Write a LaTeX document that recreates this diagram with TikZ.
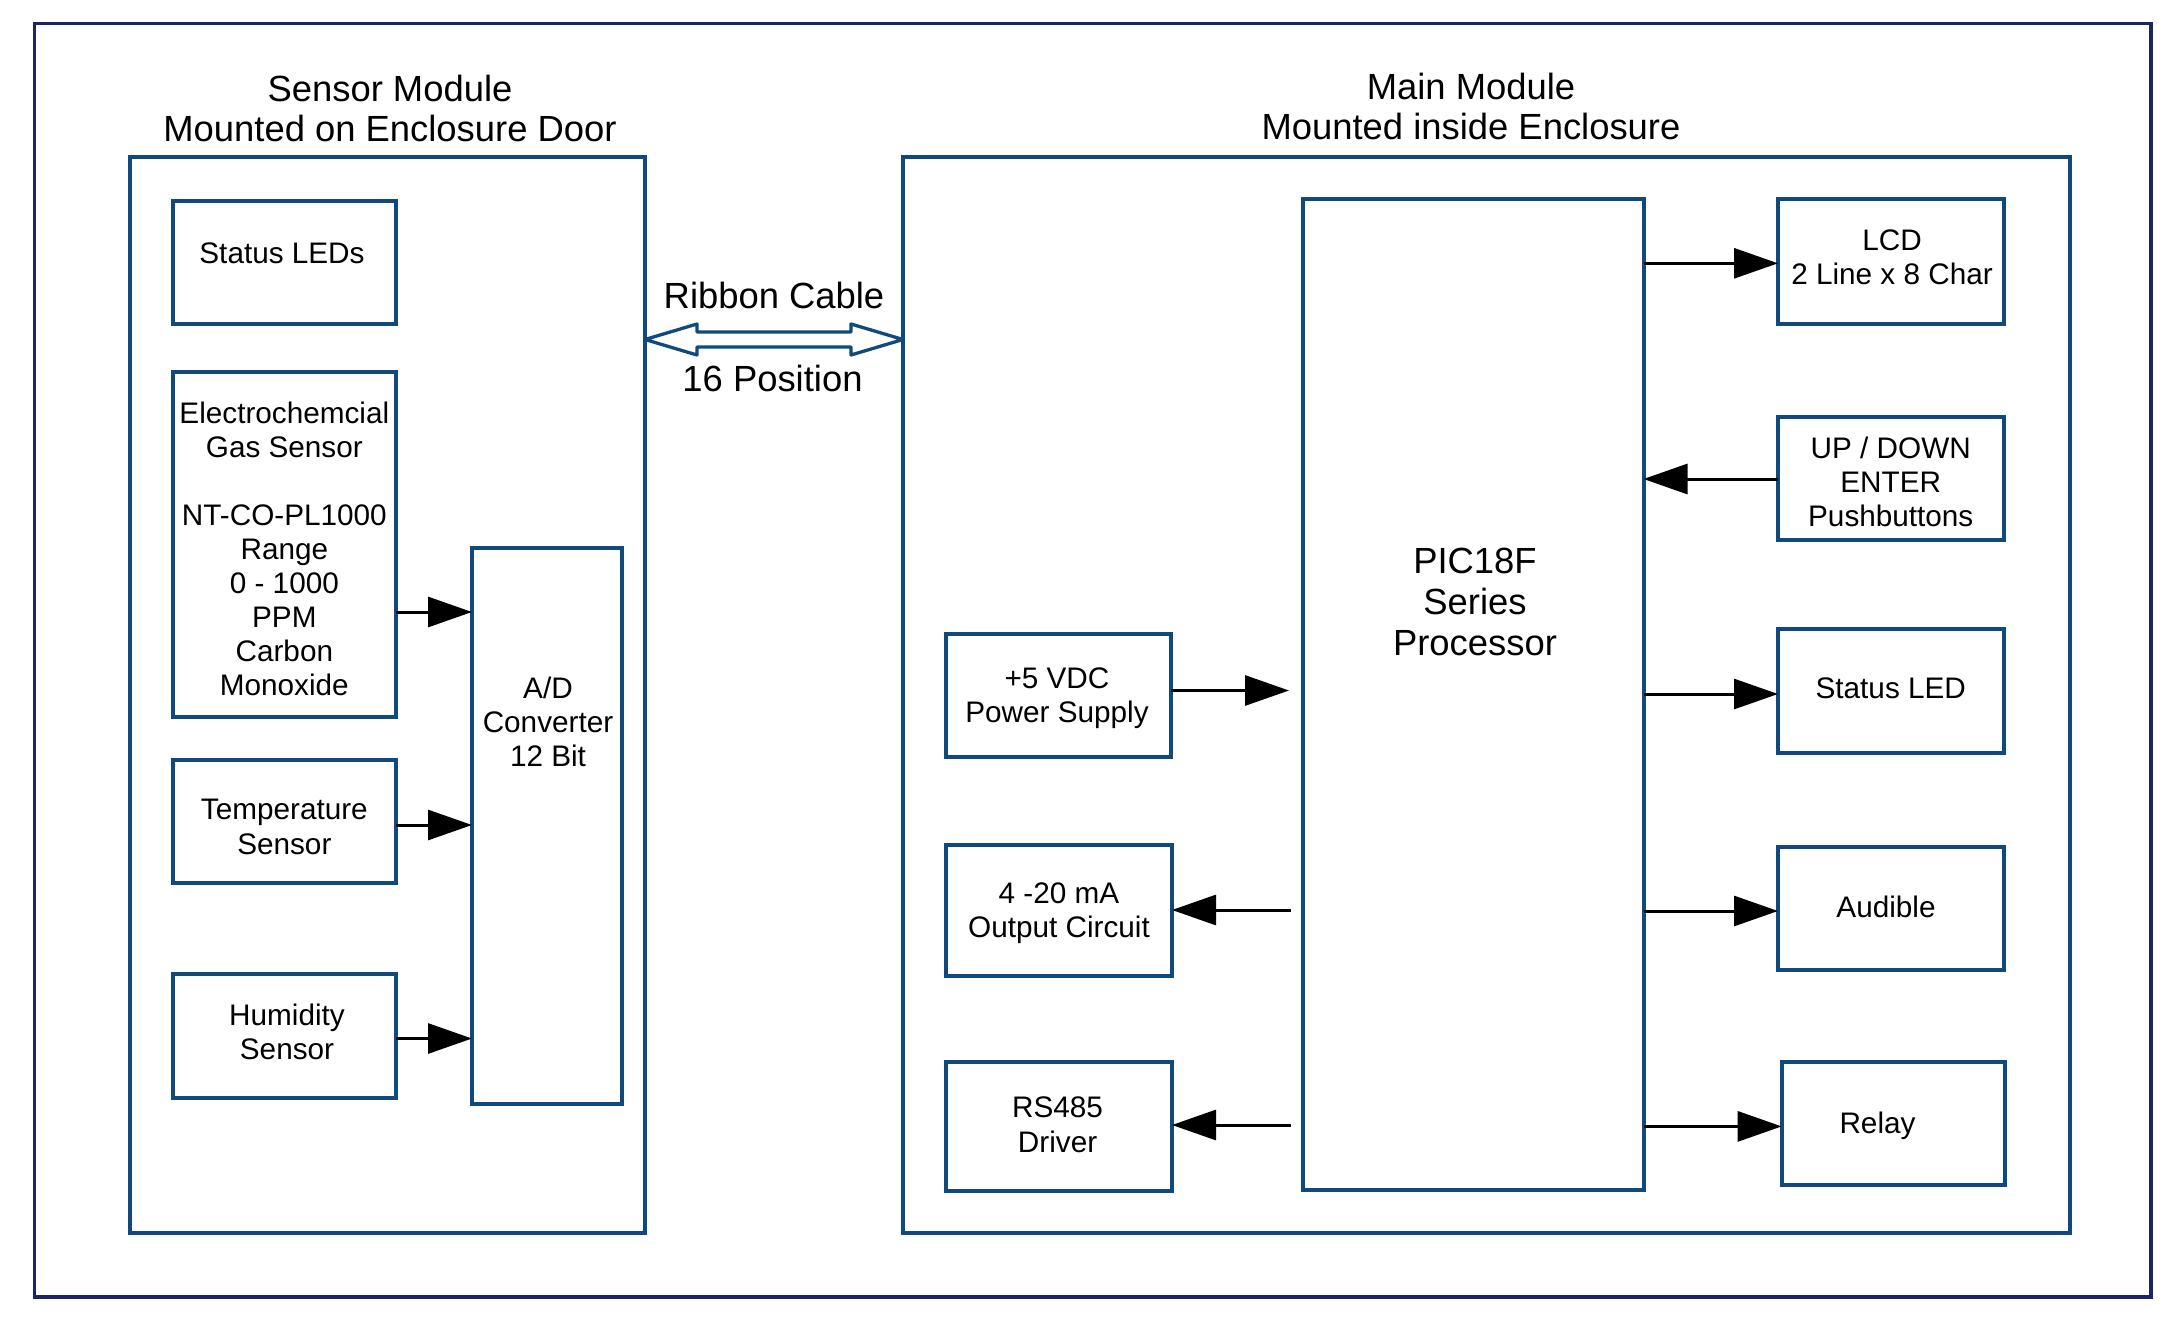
\documentclass[tikz,border=0pt]{standalone}
\usepackage{fontspec}
\setmainfont{Liberation Sans}
\usetikzlibrary{arrows.meta,calc}
\definecolor{boxblue}{RGB}{16,73,125}
\definecolor{framenavy}{RGB}{26,38,104}
\newcommand\myboxfont{\fontsize{10.4}{12}\selectfont}
\newcommand\mytitlefont{\fontsize{12.74}{14}\selectfont}
\begin{document}
\begin{tikzpicture}[x=0.35pt,y=-0.35pt,
  bx/.style n args={2}{draw=boxblue, line width=1.4pt, minimum width=#1*0.35pt,
     minimum height=#2*0.35pt, inner sep=0pt, outer sep=0pt},
  boxtxt/.style={inner sep=0pt, align=center, font=\myboxfont},
  titletxt/.style={inner sep=0pt, align=center, font=\mytitlefont},
  arr/.style={line width=1.05pt, -{Triangle[length=15.4pt,width=10.5pt]}},
  cable/.style={draw=boxblue, line width=1.15pt, line join=round}]
\useasboundingbox (0,0) rectangle (2184,1329);
% outer frame
\node[draw=framenavy, line width=1.2pt, minimum width=2116.5*0.35pt,
      minimum height=1273.5*0.35pt, inner sep=0pt] (frame) at (1092.75,660.25) {};
% modules
\node[bx={515.5}{1075.5}] (sensormod) at (387.25,694.75) {};
\node[bx={1166.5}{1075.5}] (mainmod) at (1486.25,694.75) {};
\node[titletxt] (senstitle) at (390,108) {Sensor Module\\Mounted on Enclosure Door};
\node[titletxt] (maintitle) at (1471,106) {Main Module\\Mounted inside Enclosure};
% sensor module boxes
\node[bx={223.3}{123}] (sleds) at (284.35,262.5) {};
\node[boxtxt] (sledstxt) at (282,253) {Status LEDs};
\node[bx={223.3}{345}] (electro) at (284.35,544.5) {};
\node[boxtxt, font=\fontsize{10.4}{11.9}\selectfont] (electrotxt) at (284.35,549) {Electrochemcial\\Gas Sensor\\\mbox{}\\NT-CO-PL1000\\Range\\0 - 1000\\PPM\\Carbon\\Monoxide};
\node[bx={223.3}{123}] (temp) at (284.35,821.5) {};
\node[boxtxt] (temptxt) at (284.35,827) {Temperature\\Sensor};
\node[bx={223.3}{124}] (hum) at (284.35,1036) {};
\node[boxtxt] (humtxt) at (287,1032) {Humidity\\Sensor};
\node[bx={150}{556}] (ad) at (547,826) {};
\node[boxtxt] (adtxt) at (548,722) {A/D\\Converter\\12 Bit};
% ribbon cable
\coordinate (cl) at (sensormod.east |- 0,339.5);
\draw[cable] (cl) -- ++(52,-15.5) -- ++(0,8) -- ++(154,0) -- ++(0,-8) -- ++(52,15.5)
   -- ++(-52,15.5) -- ++(0,-8) -- ++(-154,0) -- ++(0,8) -- cycle;
\node[titletxt] (ribbon) at (774,295) {Ribbon Cable};
\node[titletxt] (pos16) at (772.5,378) {16 Position};
% main module boxes
\node[bx={340.5}{991}] (pic) at (1473.25,694.5) {};
\node[titletxt, font=\fontsize{12.74}{14.2}\selectfont] (pictxt) at (1475,602) {PIC18F\\Series\\Processor};
\node[bx={225}{123}] (psu) at (1058.5,695.5) {};
\node[boxtxt] (psutxt) at (1057,698.5) {+5 VDC\\Power Supply};
\node[bx={226}{131}] (ma) at (1059,910.5) {};
\node[boxtxt] (matxt) at (1059,913.5) {4 -20 mA\\Output Circuit};
\node[bx={226}{129.5}] (rs) at (1059,1126.25) {};
\node[boxtxt] (rstxt) at (1057.6,1124.75) {RS485\\Driver};
\node[bx={225.5}{125}] (lcd) at (1890.75,261.5) {};
\node[boxtxt] (lcdtxt) at (1892,257.5) {LCD\\2 Line x 8 Char};
\node[bx={225.5}{123.5}] (updown) at (1890.75,478.25) {};
\node[boxtxt] (updowntxt) at (1890.75,482) {UP / DOWN\\ENTER\\Pushbuttons};
\node[bx={225.5}{124}] (sled) at (1890.75,691) {};
\node[boxtxt] (sledtxt) at (1890.75,688) {Status LED};
\node[bx={225.5}{123}] (aud) at (1890.75,908) {};
\node[boxtxt] (audtxt) at (1886,907) {Audible};
\node[bx={223.3}{123.3}] (relay) at (1893.35,1123.35) {};
\node[boxtxt] (relaytxt) at (1877.5,1126) {Relay};
% sensor arrows
\draw[arr] (electro.east |- 0,612) -- (ad.west |- 0,612);
\draw[arr] (temp.east |- 0,825) -- (ad.west |- 0,825);
\draw[arr] (hum.east |- 0,1038.5) -- (ad.west |- 0,1038.5);
% main arrows
\draw[arr, shorten >=4.9pt] (psu.east |- 0,690.5) -- (pic.west |- 0,690.5);
\draw[arr, shorten <=4.2pt] (pic.west |- 0,910) -- (ma.east |- 0,910);
\draw[arr, shorten <=4.2pt] (pic.west |- 0,1125) -- (rs.east |- 0,1125);
\draw[arr] (pic.east |- 0,263.3) -- (lcd.west |- 0,263.3);
\draw[arr] (updown.west |- 0,479) -- (pic.east |- 0,479);
\draw[arr] (pic.east |- 0,694) -- (sled.west |- 0,694);
\draw[arr] (pic.east |- 0,911) -- (aud.west |- 0,911);
\draw[arr] (pic.east |- 0,1126.4) -- (relay.west |- 0,1126.4);
\end{tikzpicture}
\end{document}
